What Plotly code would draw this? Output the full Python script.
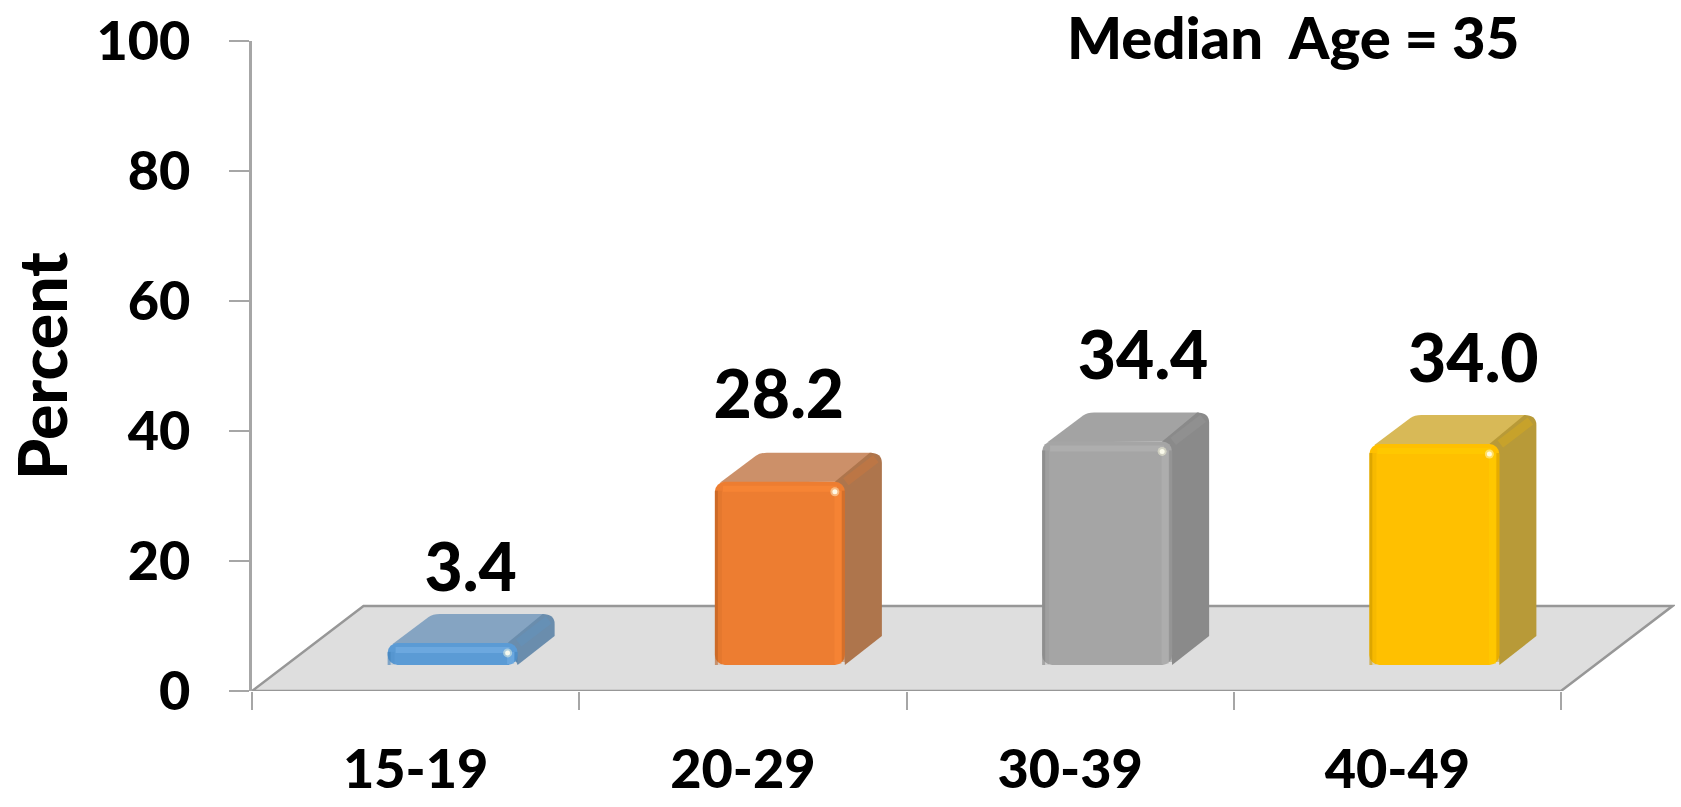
import plotly.graph_objects as go

# ---- data ----
categories = ["15-19", "20-29", "30-39", "40-49"]
values = [3.4, 28.2, 34.4, 34.0]
value_labels = ["3.4", "28.2", "34.4", "34.0"]
y_ticks = [0, 20, 40, 60, 80, 100]

# ---- styles ----
front_colors = ["#5B9BD5", "#ED7D31", "#A5A5A5", "#FFC000"]
top_colors = ["#85A4C2", "#CC9069", "#A3A3A3", "#D8B957"]
side_colors = ["#6A8DAD", "#AE754C", "#8A8A8A", "#B89A38"]
shine_colors = ["#7DB6EA", "#FF8C38", "#B8B8B8", "#FFD000"]
dark_colors = ["#3F7FB8", "#B85F22", "#808080", "#C89600"]
label_dx_px = [18, -1, 36, 39]
label_dy_px = [39, 51, 50, 50]

PX_X = 327.25      # pixels per category
PX_Y = 6.5         # pixels per percent
FONT = "Lato"
AXIS = "#A6A6A6"
EDGE = "#979797"

x_min, x_max = -0.5, -0.5 + (1675 - 252) / PX_X
bar_w = 130 / PX_X
bar_shift = 37 / PX_X
depth_x = 37 / PX_X
depth_y = 29 / PX_Y
base = 26 / PX_Y
floor_dx = 111.5 / PX_X
floor_dy = 85 / PX_Y
rx = 10 / PX_X
ry = 10 / PX_Y

fig = go.Figure()
idx = list(range(len(categories)))
lefts = [i + bar_shift - bar_w / 2 for i in idx]
rights = [i + bar_shift + bar_w / 2 for i in idx]
tops = [base + v for v in values]

# floor
right_end = len(categories) - 0.5
floor_path = (
    f"M {x_min},0 L {x_min + floor_dx},{floor_dy} "
    f"L {right_end + floor_dx},{floor_dy} L {right_end},0 Z"
)
fig.add_shape(type="path", path=floor_path, xref="x", yref="y", layer="below",
              fillcolor="#DEDEDE", line=dict(color=EDGE, width=2.5))

# depth faces
for i in idx:
    L, R, T = lefts[i], rights[i], tops[i]
    top_path = (
        f"M {L + 5 / PX_X},{T - 1 / PX_Y} L {L + 41 / PX_X},{T + depth_y - 3 / PX_Y} "
        f"Q {L + 45 / PX_X},{T + depth_y} {L + 52 / PX_X},{T + depth_y} "
        f"L {R + depth_x - rx},{T + depth_y} "
        f"L {R},{T} Z"
    )
    side_path = (
        f"M {R - rx},{T} L {R + depth_x - rx * 1.2},{T + depth_y} "
        f"Q {R + depth_x},{T + depth_y} {R + depth_x},{T + depth_y - ry} "
        f"L {R + depth_x},{base + depth_y} "
        f"L {R},{base} Z"
    )
    fig.add_shape(type="path", path=top_path, xref="x", yref="y", layer="below",
                  fillcolor=top_colors[i], line=dict(width=0))
    fig.add_shape(type="path", path=side_path, xref="x", yref="y", layer="below",
                  fillcolor=side_colors[i], line=dict(width=0))

# front faces
fig.add_trace(go.Bar(
    x=idx, y=values, base=base, width=bar_w, offset=bar_shift - bar_w / 2,
    marker=dict(color=front_colors, line=dict(width=0)), hoverinfo="skip",
))

# bevel highlights
for i in idx:
    L, R, T = lefts[i], rights[i], tops[i]
    inset_top = 7 / PX_Y
    # band along the back-right edge of the depth
    fig.add_trace(go.Scatter(
        x=[R + 1 / PX_X, R + depth_x - 6 / PX_X], y=[T, T + depth_y - 6 / PX_Y], mode="lines",
        line=dict(color=front_colors[i], width=9), opacity=0.22, hoverinfo="skip"))
    # soft vertical bands
    fig.add_trace(go.Scatter(
        x=[R - 7 / PX_X] * 2, y=[base + 1 / PX_Y, T - 9 / PX_Y], mode="lines",
        line=dict(color=shine_colors[i], width=7), opacity=0.45, hoverinfo="skip"))
    fig.add_trace(go.Scatter(
        x=[R - 1.5 / PX_X] * 2, y=[base + 3 / PX_Y, T - 9 / PX_Y], mode="lines",
        line=dict(color=dark_colors[i], width=3), opacity=0.45, hoverinfo="skip"))
    fig.add_trace(go.Scatter(
        x=[L + 1.5 / PX_X] * 2, y=[base, T - 9 / PX_Y], mode="lines",
        line=dict(color=dark_colors[i], width=3), opacity=0.6, hoverinfo="skip"))
    fig.add_trace(go.Scatter(
        x=[L + 5 / PX_X] * 2, y=[base, T - 9 / PX_Y], mode="lines",
        line=dict(color=dark_colors[i], width=4), opacity=0.15, hoverinfo="skip"))
    fig.add_trace(go.Scatter(
        x=[L + 8 / PX_X, R - 8 / PX_X], y=[T - inset_top] * 2, mode="lines",
        line=dict(color=shine_colors[i], width=6), opacity=0.5, hoverinfo="skip"))
    fig.add_trace(go.Scatter(
        x=[R - 10 / PX_X], y=[T - 10 / PX_Y], mode="markers",
        marker=dict(color="#FFFFE0", size=9, line=dict(width=0)), opacity=0.45, hoverinfo="skip"))
    fig.add_trace(go.Scatter(
        x=[R - 10 / PX_X], y=[T - 10 / PX_Y], mode="markers",
        marker=dict(color="#FFFFF0", size=5, line=dict(width=0)), opacity=0.9, hoverinfo="skip"))

# value labels
fig.add_trace(go.Scatter(
    x=[i + bar_shift + label_dx_px[i] / PX_X for i in idx],
    y=[tops[i] + depth_y + label_dy_px[i] / PX_Y for i in idx],
    text=value_labels, mode="text", textposition="middle center",
    textfont=dict(family=FONT, size=66, color="black", weight=900),
    hoverinfo="skip", cliponaxis=False,
))

fig.add_annotation(
    text="Median&nbsp;&nbsp;Age = 35", xref="paper", yref="paper",
    x=(1293 - 252) / (1675 - 252), y=1 + (41 - 37) / 650,
    showarrow=False, xanchor="center", yanchor="middle",
    font=dict(family=FONT, size=58, color="black", weight=900),
)

fig.update_layout(
    width=1681, height=807, showlegend=False, plot_bgcolor="white", paper_bgcolor="white",
    margin=dict(l=252, r=6, t=41, b=116), barcornerradius=10, barmode="overlay",
    font=dict(family=FONT, color="black"),
)
fig.update_xaxes(
    range=[x_min, x_max], tickvals=idx, ticktext=categories, automargin=False,
    ticks="", showgrid=False, zeroline=False, showline=False, ticklabelstandoff=42,
    tickfont=dict(family=FONT, size=54, color="black", weight=900),
    minor=dict(tickvals=[i - 0.5 for i in idx] + [right_end], ticks="outside",
               ticklen=18, tickwidth=1.5, tickcolor=AXIS, showgrid=False),
)
fig.update_yaxes(
    range=[0, 100], tickvals=y_ticks, ticktext=[str(t) for t in y_ticks],
    ticks="outside", ticklen=20, tickwidth=1.5, tickcolor=AXIS, ticklabelstandoff=28,
    showline=True, linecolor=AXIS, linewidth=2.5, showgrid=False, zeroline=False,
    tickfont=dict(family=FONT, size=54, color="black", weight=900),
    title=dict(text="Percent", font=dict(family=FONT, size=66, color="black", weight=900), standoff=8),
)

fig.write_html("out.html", config={"displayModeBar": False},
               post_script="document.body.style.margin='0';document.body.style.overflow='hidden';")
